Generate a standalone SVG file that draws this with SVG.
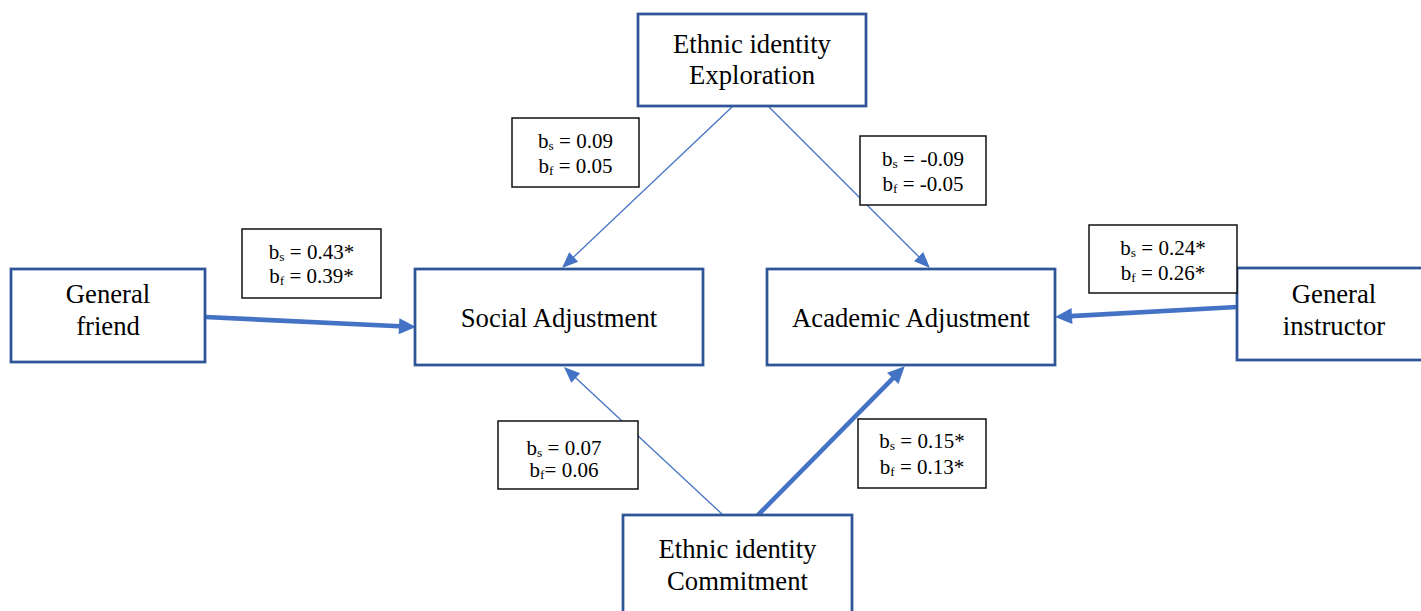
<svg xmlns="http://www.w3.org/2000/svg" width="1421" height="611" viewBox="0 0 1421 611">
<style>
.node rect{fill:#fff;stroke:#2F5597;stroke-width:2.75}
.node text{font-family:"Liberation Serif","Times New Roman",serif;font-size:26.7px;fill:#000;text-anchor:middle}
.lab rect{fill:#fff;stroke:#111;stroke-width:1.5}
.lab text{font-family:"Liberation Serif","Times New Roman",serif;font-size:21px;fill:#000;text-anchor:middle}
.sub{font-size:13.5px}
.thin{stroke:#4472C4;stroke-width:1.3;fill:none;marker-end:url(#hThin)}
.thick{stroke:#4472C4;stroke-width:4.6;fill:none;marker-end:url(#hThick)}
</style>
<defs>
<marker id="hThin" markerUnits="userSpaceOnUse" markerWidth="16" markerHeight="13" refX="6" refY="6.5" orient="auto" overflow="visible">
<path d="M0,0 L16,6.5 L0,13 z" fill="#4472C4"/>
</marker>
<marker id="hThick" markerUnits="userSpaceOnUse" markerWidth="17" markerHeight="16" refX="6" refY="8" orient="auto" overflow="visible">
<path d="M0,0 L17,8 L0,16 z" fill="#4472C4"/>
</marker>
</defs>
<rect width="1421" height="611" fill="#fff"/>
<g id="connectors">
<line class="thin" x1="732" y1="107" x2="569.3" y2="261.1"/>
<line class="thin" x1="769" y1="107" x2="922.9" y2="260.9"/>
<line class="thick" x1="205" y1="317" x2="405" y2="326.5"/>
<line class="thick" x1="1237" y1="307" x2="1066" y2="316.4"/>
<line class="thin" x1="723" y1="515" x2="571.3" y2="373.8"/>
<line class="thick" x1="758" y1="515" x2="897" y2="374.1"/>
</g>
<g id="exploration" class="node">
<rect x="638" y="14" width="228" height="92"/>
<text x="752" y="53">Ethnic identity</text>
<text x="752" y="84">Exploration</text>
</g>
<g id="social" class="node">
<rect x="415" y="269" width="288" height="96"/>
<text x="559" y="327">Social Adjustment</text>
</g>
<g id="academic" class="node">
<rect x="767" y="269" width="288" height="96"/>
<text x="911" y="327">Academic Adjustment</text>
</g>
<g id="friend" class="node">
<rect x="11" y="269" width="194" height="93"/>
<text x="108" y="303">General</text>
<text x="108" y="335">friend</text>
</g>
<g id="instructor" class="node">
<rect x="1237" y="268" width="196" height="92"/>
<text x="1334" y="303">General</text>
<text x="1334" y="335">instructor</text>
</g>
<g id="commitment" class="node">
<rect x="623" y="515" width="229" height="110"/>
<text x="737.5" y="558">Ethnic identity</text>
<text x="737.5" y="590">Commitment</text>
</g>
<g id="labels">
<g id="lab-exp-soc" class="lab">
<rect x="512" y="118" width="127" height="69"/>
<text x="575.5" y="148">b<tspan class="sub" dy="2">s</tspan><tspan dy="-2"> = 0.09</tspan></text>
<text x="575.5" y="173">b<tspan class="sub" dy="2">f</tspan><tspan dy="-2"> = 0.05</tspan></text>
</g>
<g id="lab-exp-aca" class="lab">
<rect x="860" y="136" width="126" height="69"/>
<text x="923" y="165.5">b<tspan class="sub" dy="2">s</tspan><tspan dy="-2"> = -0.09</tspan></text>
<text x="923" y="191">b<tspan class="sub" dy="2">f</tspan><tspan dy="-2"> = -0.05</tspan></text>
</g>
<g id="lab-fri-soc" class="lab">
<rect x="242" y="229" width="139" height="69"/>
<text x="311.5" y="259">b<tspan class="sub" dy="2">s</tspan><tspan dy="-2"> = 0.43*</tspan></text>
<text x="311.5" y="283">b<tspan class="sub" dy="2">f</tspan><tspan dy="-2"> = 0.39*</tspan></text>
</g>
<g id="lab-ins-aca" class="lab">
<rect x="1089" y="225" width="148" height="68"/>
<text x="1163" y="255">b<tspan class="sub" dy="2">s</tspan><tspan dy="-2"> = 0.24*</tspan></text>
<text x="1163" y="280">b<tspan class="sub" dy="2">f</tspan><tspan dy="-2"> = 0.26*</tspan></text>
</g>
<g id="lab-com-soc" class="lab">
<rect x="498" y="421" width="140" height="68"/>
<text x="564" y="455">b<tspan class="sub" dy="2">s</tspan><tspan dy="-2"> = 0.07</tspan></text>
<text x="564" y="477">b<tspan class="sub" dy="2">f</tspan><tspan dy="-2">= 0.06</tspan></text>
</g>
<g id="lab-com-aca" class="lab">
<rect x="858" y="419" width="128" height="69"/>
<text x="922" y="448">b<tspan class="sub" dy="2">s</tspan><tspan dy="-2"> = 0.15*</tspan></text>
<text x="922" y="474">b<tspan class="sub" dy="2">f</tspan><tspan dy="-2"> = 0.13*</tspan></text>
</g>
</g>
</svg>
